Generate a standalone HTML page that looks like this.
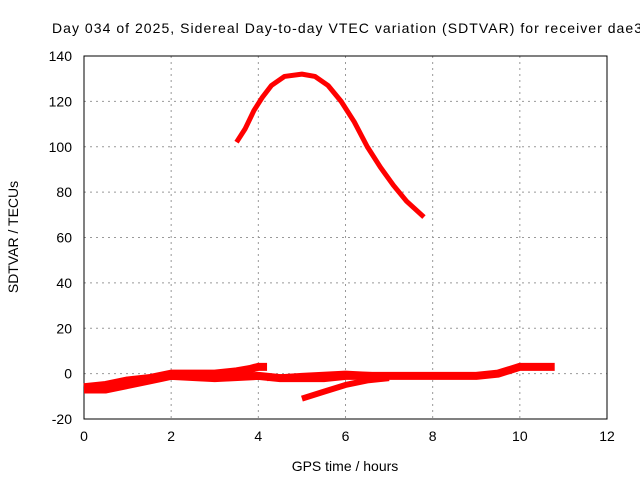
<!DOCTYPE html>
<html><head><meta charset="utf-8"><style>
body{margin:0;background:#fff;font-family:"Liberation Sans",sans-serif}
svg text{font-family:"Liberation Sans",sans-serif;font-size:14px;fill:#000}
</style></head><body>
<svg id="c" width="640" height="480"></svg>
<script>
const xTicks=[0,2,4,6,8,10,12];
const yTicks=[-20,0,20,40,60,80,100,120,140];
const arcHours=[3.5,3.7,3.9,4.1,4.3,4.6,5.0,5.3,5.6,5.9,6.2,6.5,6.8,7.1,7.4,7.8];
const arcValues=[102,108,116,122,127,131,132,131,127,120,111,100,91,83,76,69];
const bandAHours=[0,0.5,1,1.5,2,2.5,3,3.5,3.8,4.0,4.2];
const bandAValues=[-6,-5,-3,-2,0,0,0,1,2,3,3];
const bandBHours=[0,0.5,1,1.5,2,3,4,4.5,5,5.5,6,7,8,9,9.5,10,10.8];
const bandBValues=[-7,-7,-5,-3,-1,-2,-1,-2,-2,-2,-1,-1,-1,-1,0,3,3];
const bandCHours=[5,5.5,6,6.5,7];
const bandCValues=[-11,-8,-5,-3,-2];
const bandDHours=[4.2,5,6,7,8];
const bandDValues=[-2,-1,0,-1,-1];
const L=84,R=607,T=56,B=419;
const X=h=>L+(h-0)/12*(R-L);
const Y=v=>B-(v+20)/160*(B-T);
const svg=document.getElementById('c');
const NS='http://www.w3.org/2000/svg';
function mk(t,a){const e=document.createElementNS(NS,t);for(const k in a)e.setAttribute(k,a[k]);svg.appendChild(e);return e;}
xTicks.forEach(t=>{
 const g=mk('line',{x1:X(t),x2:X(t),y1:T,y2:B,stroke:'#999','stroke-dasharray':'2,4'});
 
 
 const tx=mk('text',{x:X(t),y:B+22,'text-anchor':'middle'});tx.textContent=t;
 
 
});
yTicks.forEach(t=>{
 const g=mk('line',{x1:L,x2:R,y1:Y(t),y2:Y(t),stroke:'#999','stroke-dasharray':'2,4'});
 
 
 const tx=mk('text',{x:L-12,y:Y(t)+5,'text-anchor':'end'});tx.textContent=t;
 
 
});
const fr=mk('rect',{x:L,y:T,width:R-L,height:B-T,fill:'none',stroke:'#000'});


function series(hs,vs,name,w){
 const p=mk('polyline',{points:hs.map((h,i)=>X(h)+','+Y(vs[i])).join(' '),fill:'none',stroke:'#f00','stroke-width':w,'stroke-linejoin':'round','stroke-linecap':'butt'});
 
 
}
series(arcHours,arcValues,'series-arc',5);
series(bandAHours,bandAValues,'series-band-a',8);
series(bandBHours,bandBValues,'series-band-b',8);
series(bandCHours,bandCValues,'series-band-c',6);
series(bandDHours,bandDValues,'series-band-d',6);
const ti=mk('text',{x:52,y:33,'text-anchor':'start','font-size':'15',textLength:'590',lengthAdjust:'spacing'});ti.textContent='Day 034 of 2025, Sidereal Day-to-day VTEC variation (SDTVAR) for receiver dae3';


const xl=mk('text',{x:345,y:471,'text-anchor':'middle'});xl.textContent='GPS time / hours';


const yl=mk('text',{x:0,y:0,'text-anchor':'middle',transform:'translate(18,237) rotate(-90)'});yl.textContent='SDTVAR / TECUs';


</script>
</body></html>
